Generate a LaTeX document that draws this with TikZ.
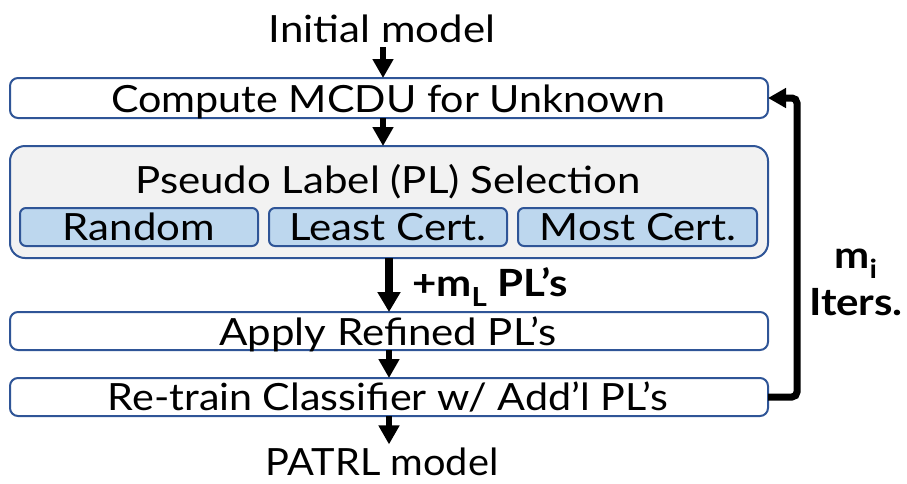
\documentclass[tikz,border=0pt]{standalone}
\usepackage{fontspec}
\setmainfont{Lato}[FakeStretch=1.12]
\usetikzlibrary{arrows.meta}
\definecolor{boxblue}{HTML}{2F5597}
\definecolor{panelgray}{HTML}{F2F2F2}
\definecolor{optblue}{HTML}{BDD7EE}
\begin{document}
\begin{tikzpicture}[x=1pt,y=-1pt,
  box/.style={draw=boxblue,line width=2pt,inner sep=0pt,outer sep=0pt,rectangle},
  stagebox/.style={box,fill=white,rounded corners=8pt,minimum width=758pt},
  optbox/.style={box,fill=optblue,rounded corners=6pt,minimum width=238pt,minimum height=38pt},
  lbl/.style={font=\fontsize{37.5}{40}\selectfont,inner sep=0pt,outer sep=0pt,anchor=base},
  bold/.style={lbl,font=\fontsize{37.5}{40}\selectfont\bfseries},
  flow/.style={line width=6.5pt,-{Triangle[width=20pt,length=19pt]}},
  bigflow/.style={line width=7.5pt,-{Triangle[width=22pt,length=20pt]}},
  loop/.style={line width=7pt,rounded corners=5pt,-{Triangle[width=19pt,length=18pt]}}]
\useasboundingbox (0,0) rectangle (907,483);
% stage boxes
\node[stagebox,minimum height=40pt] (b1) at (389,98) {};
\node[box,fill=panelgray,rounded corners=15pt,minimum width=758pt,minimum height=112pt] (b2) at (389,202) {};
\node[optbox] (o1) at (139,227) {};
\node[optbox] (o2) at (388,227) {};
\node[optbox,minimum width=239pt] (o3) at (637.5,227) {};
\node[stagebox,minimum height=38pt] (b3) at (389,331) {};
\node[stagebox,minimum height=38pt] (b4) at (389,397) {};
% texts
\node[lbl] (init) at (382,42) {Initial model};
\node[lbl] (t1) at (388,112) {\addfontfeature{FakeStretch=1.1}Compute MCDU for Unknown};
\node[lbl] (t2) at (388,193) {Pseudo Label (PL) Selection};
\node[lbl] (t3) at (139,240) {Random};
\node[lbl] (t4) at (388,240) {Least Cert.};
\node[lbl] (t5) at (638,240) {Most Cert.};
\node[lbl] (t6) at (388,345) {Apply Refined PL’s};
\node[lbl] (t7) at (388,410) {\addfontfeature{FakeStretch=1.1}Re-train Classifier w/ Add’l PL’s};
\node[lbl] (out) at (382,475) {\addfontfeature{FakeStretch=1.06}PATRL model};
\node[bold,anchor=base west] (ml) at (412,296) {+m\textsubscript{L} PL’s};
\node[bold] (mi) at (856,268) {m\textsubscript{i}};
\node[bold] (it) at (856,315) {Iters.};
% connectors
\coordinate (c1) at (383,0);
\coordinate (loopx) at (797,0);
\draw[flow] ([yshift=-5pt]init.south -| c1) -- (b1.north -| c1);
\draw[flow] (b1.south -| c1) -- (b2.north -| c1);
\draw[bigflow] (b2.south) -- (b3.north);
\draw[flow] (b3.south) -- (b4.north);
\draw[flow,shorten >=3pt] (b4.south) -- (b4.south |- out.north);
\draw[loop] (b4.east) -| (loopx |- b1.east) -- (b1.east);
\end{tikzpicture}
\end{document}
